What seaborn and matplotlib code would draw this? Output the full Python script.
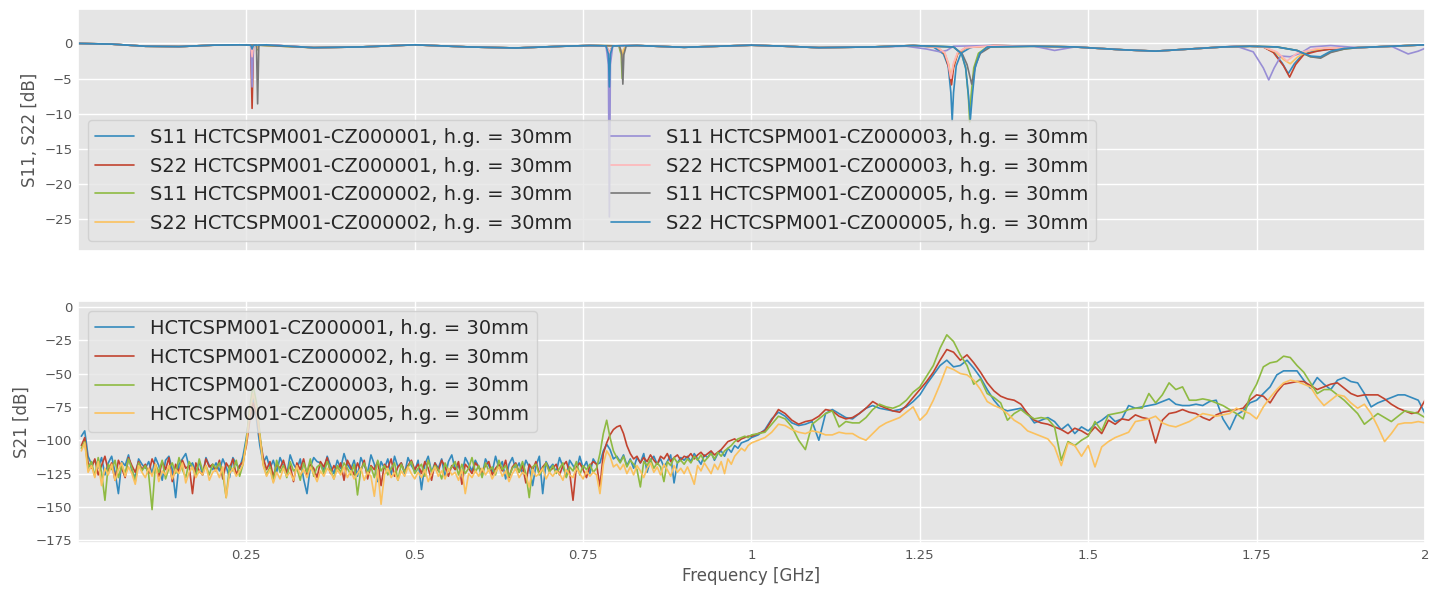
import numpy as np
import pandas as pd
import seaborn as sns
import matplotlib
matplotlib.use('Agg')
import matplotlib.pyplot as plt

# frequency grid of the S21 traces [GHz]
freq = np.concatenate([np.arange(1, 201) * 0.005, 1 + np.arange(1, 101) * 0.01])

devices = ['HCTCSPM001-CZ000001', 'HCTCSPM001-CZ000002',
           'HCTCSPM001-CZ000003', 'HCTCSPM001-CZ000005']
colors = ['#348ABD', '#C2432F', '#8EBA42', '#FBC15E',
          '#988ED5', '#FFB5B8', '#777777', '#348ABD']

# S21 [dB]
s21_cz1 = [
    -97, -93, -112, -118, -115, -121, -113, -126, -117, -112, -124, -140, -116, -119, -111, -123, -128, -114, -118, -121,
    -116, -125, -113, -119, -130, -115, -112, -122, -143, -118, -114, -110, -120, -117, -124, -116, -126, -113, -119, -122,
    -117, -123, -114, -120, -128, -113, -118, -121, -112, -98, -78, -68, -84, -104, -117, -112, -121, -115, -124, -113,
    -119, -126, -111, -118, -122, -114, -129, -140, -120, -113, -116, -117, -123, -112, -119, -125, -115, -121, -110, -118,
    -122, -115, -127, -113, -119, -124, -111, -118, -131, -116, -121, -114, -126, -112, -120, -117, -125, -113, -119, -123,
    -115, -137, -118, -112, -124, -117, -121, -114, -128, -116, -111, -122, -119, -126, -113, -118, -123, -115, -120, -127,
    -114, -119, -124, -112, -121, -116, -129, -118, -113, -122, -117, -125, -115, -120, -134, -119, -112, -140, -116, -121,
    -118, -124, -113, -120, -127, -115, -119, -123, -112, -121, -116, -125, -114, -118, -117, -108, -103, -107, -114, -112,
    -116, -111, -119, -114, -121, -113, -117, -110, -124, -115, -112, -118, -114, -120, -116, -111, -132, -117, -113, -115,
    -112, -116, -110, -114, -118, -111, -113, -109, -115, -110, -108, -112, -106, -109, -104, -106, -102, -101, -100, -98,
    -96, -92, -84, -79, -82, -87, -89, -88, -86, -100,
    -80, -77, -80, -83, -84, -80, -76, -74, -76, -77,
    -78, -77, -75, -71, -66, -58, -51, -44, -40, -45,
    -44, -40, -46, -53, -62, -70, -76, -78, -77, -76,
    -80, -87, -85, -83, -86, -92, -88, -95, -90, -93,
    -88, -85, -81, -86, -84, -74, -76, -75, -74, -73,
    -71, -69, -73, -74, -74, -73, -74, -71, -70, -84,
    -92, -81, -78, -72, -70, -65, -60, -51, -48, -48,
    -48, -55, -61, -53, -58, -62, -55, -53, -56, -57,
    -65, -75, -72, -70, -68, -66, -66, -68, -70, -80,
]
s21_cz2 = [
    -104, -98, -117, -121, -114, -126, -119, -112, -123, -117, -130, -115, -121, -128, -113, -119, -124, -116, -122, -118,
    -125, -114, -120, -127, -116, -122, -113, -131, -118, -124, -115, -121, -119, -140, -117, -123, -126, -114, -120, -118,
    -123, -115, -129, -117, -121, -114, -126, -119, -116, -104, -85, -72, -80, -98, -113, -122, -116, -127, -118, -121,
    -115, -124, -119, -131, -117, -122, -114, -126, -118, -121, -128, -116, -120, -113, -125, -119, -123, -117, -130, -115,
    -120, -126, -117, -123, -115, -129, -119, -122, -116, -134, -118, -121, -114, -127, -120, -117, -124, -119, -115, -122,
    -118, -125, -116, -121, -130, -117, -123, -115, -120, -127, -119, -122, -116, -133, -118, -121, -125, -117, -120, -124,
    -119, -116, -126, -121, -118, -123, -115, -128, -120, -117, -124, -119, -132, -118, -122, -116, -125, -120, -117, -123,
    -121, -118, -126, -119, -116, -124, -145, -120, -117, -122, -128, -119, -116, -118, -135, -110, -102, -96, -92, -90,
    -89, -95, -104, -110, -114, -112, -117, -113, -116, -111, -115, -118, -112, -114, -110, -116, -113, -111, -115, -112,
    -113, -110, -114, -111, -109, -112, -110, -108, -111, -109, -107, -104, -101, -100, -99, -101, -99, -98, -97, -97,
    -95, -93, -85, -77, -80, -85, -88, -86, -85, -82,
    -77, -78, -82, -84, -83, -80, -76, -71, -74, -76,
    -78, -79, -74, -68, -62, -56, -49, -40, -32, -34,
    -40, -36, -42, -49, -57, -63, -67, -69, -70, -73,
    -80, -85, -87, -88, -90, -92, -95, -91, -93, -96,
    -90, -95, -85, -88, -84, -85, -81, -83, -84, -102,
    -85, -80, -79, -77, -79, -80, -83, -85, -81, -79,
    -78, -77, -76, -70, -66, -67, -72, -64, -58, -57,
    -56, -56, -59, -62, -60, -58, -57, -61, -65, -67,
    -66, -66, -66, -69, -73, -76, -78, -80, -79, -70,
]
s21_cz3 = [
    -106, -101, -121, -116, -127, -113, -124, -145, -118, -122, -115, -128, -119, -125, -114, -121, -131, -117, -123, -119,
    -126, -152, -118, -124, -115, -129, -121, -117, -125, -113, -122, -128, -116, -120, -127, -114, -123, -119, -126, -118,
    -121, -117, -125, -143, -119, -123, -115, -127, -118, -100, -75, -59, -72, -95, -118, -126, -120, -131, -115, -124,
    -119, -128, -116, -123, -121, -130, -117, -124, -114, -127, -120, -118, -125, -116, -122, -129, -119, -124, -117, -121,
    -126, -118, -141, -122, -117, -125, -120, -128, -115, -123, -119, -126, -121, -117, -130, -118, -124, -120, -116, -125,
    -121, -118, -127, -115, -124, -119, -122, -129, -117, -123, -120, -116, -126, -118, -125, -121, -113, -124, -119, -128,
    -117, -123, -120, -126, -115, -122, -119, -127, -121, -118, -124, -116, -125, -143, -120, -118, -126, -122, -117, -124,
    -119, -125, -121, -117, -128, -120, -123, -116, -126, -119, -122, -118, -124, -121, -110, -95, -85, -98, -108, -113,
    -117, -112, -120, -115, -118, -122, -135, -116, -119, -114, -121, -117, -120, -131, -116, -119, -113, -117, -115, -118,
    -114, -117, -112, -115, -111, -116, -113, -110, -114, -109, -112, -108, -106, -104, -101, -99, -98, -97, -98, -96,
    -95, -94, -88, -82, -84, -90, -100, -107, -88, -84,
    -80, -78, -90, -86, -87, -87, -83, -77, -73, -75,
    -76, -74, -70, -64, -60, -52, -44, -31, -21, -26,
    -36, -44, -58, -54, -65, -68, -72, -85, -80, -77,
    -81, -84, -83, -84, -90, -115, -101, -104, -100, -97,
    -86, -93, -81, -80, -79, -77, -76, -76, -65, -72,
    -66, -57, -62, -60, -70, -70, -69, -70, -72, -74,
    -77, -80, -84, -67, -58, -45, -42, -41, -37, -38,
    -44, -49, -57, -65, -62, -62, -66, -70, -75, -80,
    -88, -84, -80, -83, -86, -82, -78, -79, -80, -83,
]
s21_cz5 = [
    -108, -102, -124, -119, -128, -116, -134, -121, -126, -118, -130, -122, -117, -127, -120, -125, -133, -119, -124, -128,
    -121, -127, -118, -131, -123, -126, -119, -129, -122, -125, -117, -132, -124, -120, -128, -123, -126, -119, -130, -124,
    -122, -128, -120, -143, -125, -121, -127, -123, -118, -102, -80, -65, -76, -97, -119, -127, -122, -132, -124, -129,
    -121, -127, -124, -130, -119, -126, -122, -128, -120, -125, -131, -123, -127, -121, -124, -129, -122, -126, -120, -128,
    -123, -129, -125, -121, -130, -124, -127, -142, -122, -148, -126, -121, -128, -124, -130, -123, -127, -120, -125, -129,
    -124, -128, -122, -131, -125, -120, -127, -123, -129, -121, -126, -124, -130, -122, -140, -125, -128, -123, -127, -121,
    -126, -122, -129, -124, -120, -127, -123, -131, -125, -121, -128, -124, -126, -135, -122, -127, -125, -121, -129, -124,
    -127, -123, -125, -130, -122, -126, -128, -121, -125, -129, -123, -127, -124, -126, -140, -118, -108, -112, -120, -118,
    -122, -118, -125, -120, -126, -119, -123, -128, -121, -117, -124, -120, -126, -118, -122, -127, -119, -124, -121, -125,
    -120, -126, -133, -119, -123, -117, -121, -125, -118, -122, -116, -125, -114, -118, -112, -109, -106, -108, -104, -102,
    -100, -98, -94, -88, -89, -92, -94, -95, -93, -94,
    -96, -96, -94, -95, -95, -98, -100, -95, -90, -87,
    -85, -83, -79, -75, -85, -80, -70, -58, -45, -47,
    -50, -51, -55, -62, -71, -74, -76, -80, -85, -88,
    -93, -95, -97, -99, -105, -119, -102, -104, -112, -104,
    -120, -105, -101, -98, -96, -94, -86, -85, -84, -82,
    -87, -89, -90, -88, -86, -83, -80, -81, -82, -81,
    -80, -76, -78, -80, -84, -75, -68, -62, -57, -55,
    -56, -58, -60, -68, -74, -70, -66, -67, -72, -76,
    -73, -80, -90, -101, -95, -88, -87, -87, -86, -87,
]

# S11 / S22 [dB]: common slow ripple plus the resonance dips of each trace
base_f = [0.0, 0.05, 0.1, 0.15, 0.2, 0.24, 0.28, 0.35, 0.42, 0.5, 0.58, 0.65, 0.72, 0.76,
          0.83, 0.9, 0.95, 1.0, 1.05, 1.1, 1.18, 1.24, 1.36, 1.42, 1.48, 1.55, 1.6, 1.65,
          1.7, 1.74, 1.9, 1.95, 2.0]
base_db = [0.0, -0.1, -0.4, -0.45, -0.25, -0.2, -0.2, -0.6, -0.5, -0.2, -0.5, -0.65, -0.4, -0.3,
           -0.3, -0.55, -0.4, -0.25, -0.4, -0.6, -0.5, -0.3, -0.3, -0.4, -0.5, -0.9, -1.1, -0.8,
           -0.5, -0.4, -0.6, -0.4, -0.2]

s11_cz1_f = [0.2565, 0.2585, 0.2605, 0.784, 0.7875, 0.789, 0.7905, 0.794,
             1.27, 1.285, 1.292, 1.296, 1.298, 1.3, 1.304, 1.311, 1.325, 1.34,
             1.76, 1.775, 1.788, 1.797, 1.806, 1.818, 1.835, 1.86, 1.88]
s11_cz1_db = [-0.25, -1.8, -0.25, -0.35, -1.2, -3.0, -1.2, -0.35,
              -0.5, -1.5, -3.2, -7.0, -11.0, -7.0, -3.2, -1.4, -0.6, -0.35,
              -0.5, -1.2, -2.8, -4.3, -2.9, -1.6, -1.1, -0.8, -0.7]
s22_cz1_f = [0.2565, 0.2585, 0.2605, 0.784, 0.7875, 0.789, 0.7905, 0.794,
             1.275, 1.287, 1.293, 1.297, 1.3, 1.306, 1.318,
             1.76, 1.775, 1.79, 1.799, 1.808, 1.82, 1.84, 1.86]
s22_cz1_db = [-0.25, -9.25, -0.25, -0.35, -1.0, -2.0, -1.0, -0.35,
              -0.5, -1.5, -3.5, -5.9, -3.5, -1.5, -0.6,
              -0.5, -1.3, -3.2, -4.8, -3.0, -1.6, -1.1, -0.8]
s11_cz2_f = [0.2645, 0.2665, 0.2685, 0.803, 0.8065, 0.808, 0.8095, 0.813,
             1.3, 1.312, 1.318, 1.322, 1.324, 1.326, 1.33, 1.337, 1.35,
             1.78, 1.81, 1.83, 1.845, 1.86, 1.88]
s11_cz2_db = [-0.25, -0.9, -0.25, -0.35, -1.6, -5.0, -1.6, -0.35,
              -0.5, -1.5, -3.5, -7.5, -11.2, -7.5, -3.5, -1.4, -0.5,
              -0.5, -1.0, -1.9, -2.0, -1.2, -0.8]
s22_cz2_f = [0.2645, 0.2665, 0.2685, 0.803, 0.8065, 0.808, 0.8095, 0.813,
             1.275, 1.287, 1.293, 1.296, 1.3, 1.306, 1.318,
             1.76, 1.778, 1.79, 1.8, 1.81, 1.825, 1.85]
s22_cz2_db = [-0.25, -0.7, -0.25, -0.35, -1.0, -2.5, -1.0, -0.35,
              -0.5, -1.4, -3.0, -4.8, -3.0, -1.4, -0.6,
              -0.5, -1.2, -2.3, -2.9, -2.0, -1.1, -0.7]
s11_cz3_f = [0.2565, 0.2585, 0.2605, 0.784, 0.7875, 0.789, 0.7905, 0.794,
             1.23, 1.26, 1.28, 1.29, 1.3, 1.42, 1.45, 1.48,
             1.72, 1.745, 1.76, 1.768, 1.776, 1.786, 1.8, 1.815, 1.83, 1.86,
             1.95, 1.975, 1.99, 2.0]
s11_cz3_db = [-0.25, -6.2, -0.25, -0.35, -3.0, -24.7, -3.0, -0.35,
              -0.4, -0.8, -1.2, -1.0, -0.4, -0.4, -1.0, -0.5,
              -0.4, -1.2, -3.5, -5.2, -3.5, -1.8, -1.9, -1.4, -0.5, -0.3,
              -0.4, -1.5, -1.1, -0.7]
s22_cz3_f = [0.2565, 0.2585, 0.2605, 0.784, 0.7875, 0.789, 0.7905, 0.794,
             1.275, 1.287, 1.292, 1.296, 1.3, 1.306, 1.318,
             1.76, 1.78, 1.795, 1.81, 1.84]
s22_cz3_db = [-0.25, -1.9, -0.25, -0.35, -1.0, -2.0, -1.0, -0.35,
              -0.5, -1.3, -2.8, -5.0, -2.8, -1.3, -0.6,
              -0.5, -1.2, -2.5, -1.4, -0.7]
s11_cz5_f = [0.265, 0.2667, 0.2685, 0.804, 0.8075, 0.809, 0.8105, 0.814,
             1.3, 1.313, 1.32, 1.327, 1.333, 1.34, 1.355,
             1.78, 1.81, 1.83, 1.845, 1.86, 1.88]
s11_cz5_db = [-0.25, -8.6, -0.25, -0.35, -1.6, -5.8, -1.6, -0.35,
              -0.5, -1.5, -3.0, -5.8, -3.0, -1.4, -0.5,
              -0.5, -1.0, -1.9, -2.1, -1.3, -0.8]
s22_cz5_f = [0.2565, 0.2585, 0.2605, 0.784, 0.7875, 0.789, 0.7905, 0.794,
             1.3, 1.312, 1.318, 1.322, 1.325, 1.328, 1.332, 1.339, 1.35,
             1.78, 1.81, 1.83, 1.845, 1.86, 1.88]
s22_cz5_db = [-0.25, -0.8, -0.25, -0.35, -1.5, -6.2, -1.5, -0.35,
              -0.5, -1.5, -3.5, -7.3, -10.8, -7.3, -3.5, -1.4, -0.5,
              -0.5, -1.0, -1.8, -1.9, -1.1, -0.7]

refl = [
    ('S11', devices[0], s11_cz1_f, s11_cz1_db),
    ('S22', devices[0], s22_cz1_f, s22_cz1_db),
    ('S11', devices[1], s11_cz2_f, s11_cz2_db),
    ('S22', devices[1], s22_cz2_f, s22_cz2_db),
    ('S11', devices[2], s11_cz3_f, s11_cz3_db),
    ('S22', devices[2], s22_cz3_f, s22_cz3_db),
    ('S11', devices[3], s11_cz5_f, s11_cz5_db),
    ('S22', devices[3], s22_cz5_f, s22_cz5_db),
]


def merge_trace(dip_f, dip_db):
    # ripple points away from the dips + the dip points themselves
    keep = [(f, v) for f, v in zip(base_f, base_db)
            if min(abs(f - d) for d in dip_f) >= 0.012]
    pts = sorted(keep + list(zip(dip_f, dip_db)))
    return pd.DataFrame(pts, columns=['freq', 'db'])


sns.set_theme(style='darkgrid', rc={
    'axes.facecolor': '#E5E5E5',
    'grid.color': 'white',
    'xtick.color': '#555555',
    'ytick.color': '#555555',
    'axes.labelcolor': '#555555',
    'xtick.labelsize': 9.5,
    'ytick.labelsize': 9.5,
    'xtick.major.size': 0,
    'ytick.major.size': 0,
    'xtick.major.pad': 4,
    'ytick.major.pad': 4,
    'axes.labelsize': 12,
    'legend.edgecolor': '0.8',
})

fig, (ax1, ax2) = plt.subplots(2, 1, figsize=(14.31, 5.9), dpi=100, sharex=True)
fig.subplots_adjust(left=0.0545, right=0.9958, top=0.9847, bottom=0.0797, hspace=0.211)

# top: reflection
for i, (par, dev, f, db) in enumerate(refl):
    d = merge_trace(f, db)
    sns.lineplot(data=d, x='freq', y='db', ax=ax1, color=colors[i], lw=1.2,
                 estimator=None, label=f'{par} {dev}, h.g. = 30mm')
ax1.set_ylim(-29.5, 4.9)
ax1.set_yticks([0, -5, -10, -15, -20, -25])
ax1.set_ylabel('S11, S22 [dB]')
ax1.set_xlabel('')
ax1.legend(loc='lower left', ncol=2, fontsize=14)

# bottom: transmission
s21 = [s21_cz1, s21_cz2, s21_cz3, s21_cz5]
for i, (dev, vals) in enumerate(zip(devices, s21)):
    d = pd.DataFrame({'freq': freq, 's21': vals})
    sns.lineplot(data=d, x='freq', y='s21', ax=ax2, color=colors[i], lw=1.2,
                 estimator=None, label=f'{dev}, h.g. = 30mm')
ax2.set_ylim(-177, 4)
ax2.set_yticks([0, -25, -50, -75, -100, -125, -150, -175])
ax2.set_ylabel('S21 [dB]')
ax2.set_xlabel('Frequency [GHz]')
ax2.legend(loc='upper left', fontsize=14)

ax2.set_xlim(0, 2)
ax2.set_xticks([0.25, 0.5, 0.75, 1, 1.25, 1.5, 1.75, 2])
ax2.set_xticklabels(['0.25', '0.5', '0.75', '1', '1.25', '1.5', '1.75', '2'])

fig.savefig('out.png', dpi=100)
